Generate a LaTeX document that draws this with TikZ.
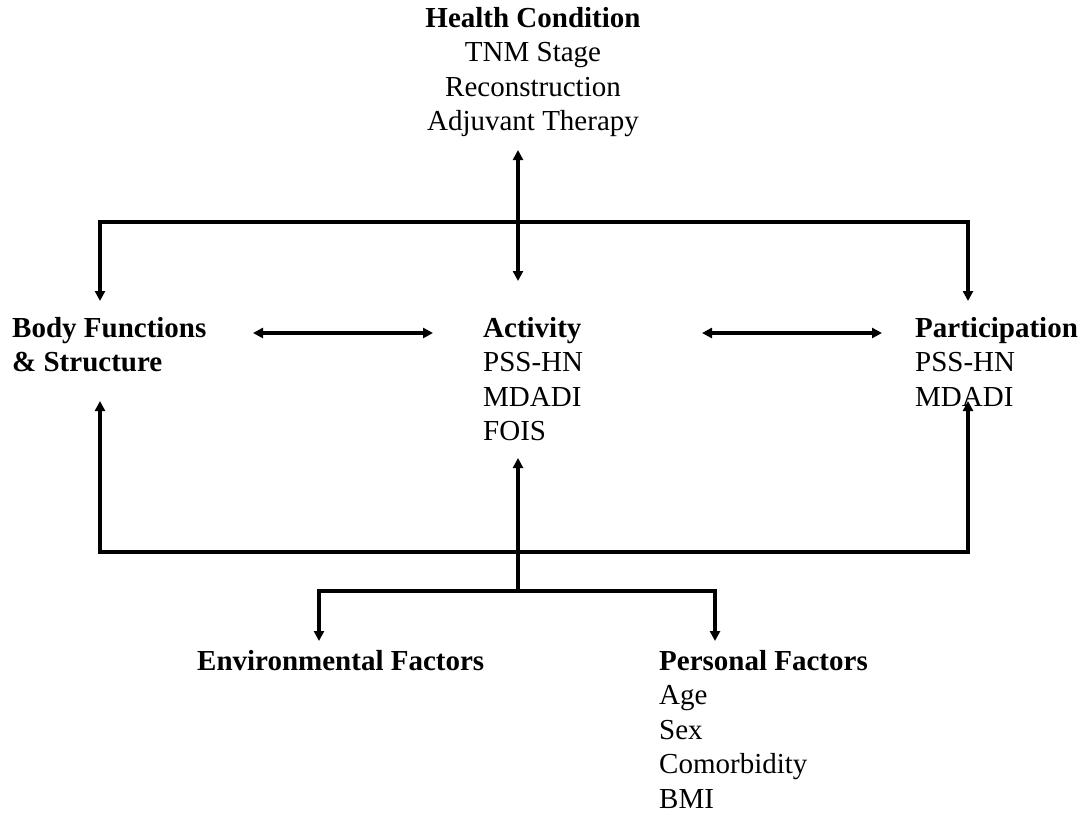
\documentclass[tikz,border=0pt]{standalone}
\usepackage{fontspec}
\setmainfont{Liberation Serif}
\usetikzlibrary{arrows.meta}
\begin{document}
\begin{tikzpicture}[x=1pt,y=-1pt,
  txt/.style={inner sep=0pt,anchor=base west,align=left,font=\fontsize{29}{34.5}\selectfont},
  ctxt/.style={inner sep=0pt,anchor=base,align=center,font=\fontsize{29}{34.5}\selectfont},
  conn/.style={line width=3.2pt,{Triangle[length=10pt,width=10pt]}-{Triangle[length=10pt,width=10pt]}},
  oneway/.style={line width=3.2pt,-{Triangle[length=10pt,width=10pt]}}]
\useasboundingbox (0,0) rectangle (1086,815);
% texts (anchored at the baseline of the last line)
\node[ctxt] (hc) at (533,130.5) {\textbf{Health Condition}\\TNM Stage\\Reconstruction\\Adjuvant Therapy};
\node[txt] (bf) at (12,371.5) {\textbf{Body Functions}\\\textbf{\& Structure}};
\node[txt] (act) at (483,440.5) {\textbf{Activity}\\PSS-HN\\MDADI\\FOIS};
\node[txt] (par) at (915,406) {\textbf{Participation}\\PSS-HN\\MDADI};
\node[txt] (env) at (197,670) {\textbf{Environmental Factors}};
\node[txt] (pf) at (659,808) {\textbf{Personal Factors}\\Age\\Sex\\Comorbidity\\BMI};
% coordinates
\coordinate (hcB) at (518,150);
\coordinate (actT) at (518,281);
\coordinate (bfT) at (100,301);
\coordinate (parT) at (968,301);
\coordinate (bfB) at (100,401);
\coordinate (parB) at (968,401);
\coordinate (actB) at (518,458);
\coordinate (br) at (518,591);
\coordinate (envT) at (319,641);
\coordinate (pfT) at (715,641);
\coordinate (bfR) at (253,333);
\coordinate (actL) at (433,333);
\coordinate (actR) at (702,333);
\coordinate (parL) at (882,333);
% connectors
\draw[conn] (hcB) -- (actT);
\draw[conn] (bfT) |- (518,222) -| (parT);
\draw[conn] (bfB) |- (518,552) -| (parB);
\draw[oneway] (br) -- (actB);
\draw[conn] (envT) |- (br) -| (pfT);
\draw[conn] (bfR) -- (actL);
\draw[conn] (actR) -- (parL);
\end{tikzpicture}
\end{document}
